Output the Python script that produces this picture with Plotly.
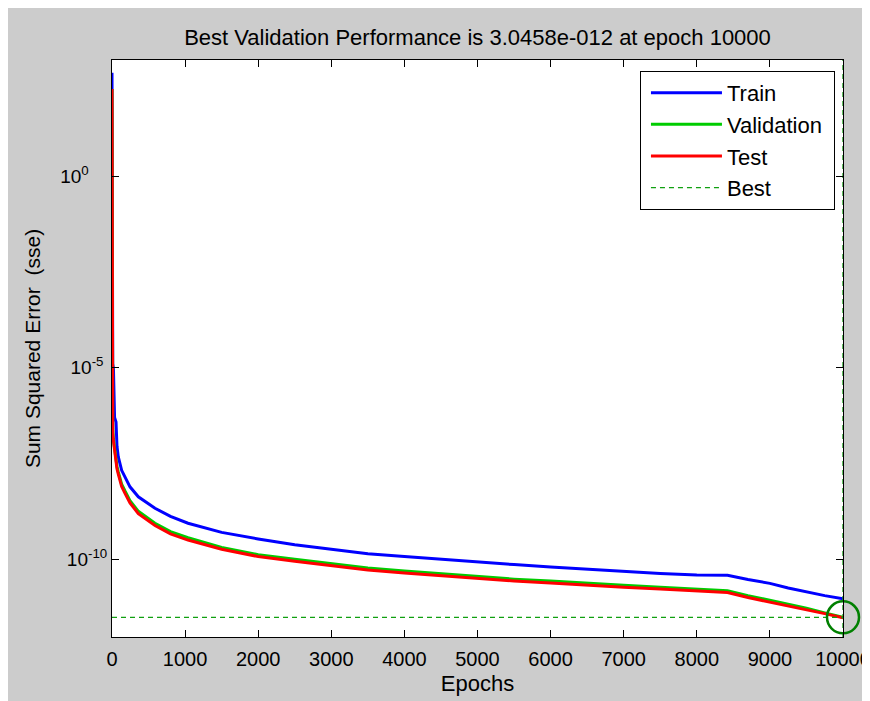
import plotly.graph_objects as go

# ---- data (values are log10 of the error) ----
epochs = [0, 2, 5, 10, 18, 20, 35, 55, 68, 86, 132, 178, 246, 360, 588, 800, 1040,
          1500, 2000, 2500, 3000, 3500, 4000, 4500, 5000, 5500, 6000, 6500,
          7000, 7500, 8000, 8420, 8700, 9000, 9250, 9500, 9750, 10000]

train_log10 = [2.70, -4.50, -4.70, -4.90, -5.00, -5.05, -6.30, -6.42, -7.05, -7.33,
               -7.68, -7.85, -8.11, -8.37, -8.67, -8.88, -9.06,
               -9.30, -9.47, -9.62, -9.74, -9.86, -9.93, -10.00, -10.08, -10.14,
               -10.20, -10.26, -10.32, -10.37, -10.41, -10.42, -10.53, -10.63,
               -10.75, -10.86, -10.95, -11.03]

val_log10 = [2.27, -5.80, -6.40, -6.60, -6.85, -6.88, -7.15, -7.45, -7.58, -7.72,
             -8.04, -8.22, -8.47, -8.75, -9.06, -9.28, -9.44,
             -9.69, -9.88, -10.00, -10.11, -10.23, -10.31, -10.38, -10.46, -10.52,
             -10.57, -10.63, -10.68, -10.73, -10.78, -10.82, -10.95, -11.07,
             -11.18, -11.28, -11.40, -11.516]

test_log10 = [2.27, -5.90, -6.50, -6.70, -6.89, -6.92, -7.20, -7.50, -7.64, -7.78,
              -8.10, -8.28, -8.53, -8.81, -9.12, -9.34, -9.50,
              -9.74, -9.93, -10.05, -10.16, -10.28, -10.36, -10.43, -10.51, -10.57,
              -10.62, -10.68, -10.73, -10.78, -10.83, -10.87, -11.00, -11.12,
              -11.22, -11.31, -11.42, -11.53]

best_epoch = 10000
best_value = 3.0458e-12

x_ticks = [0, 1000, 2000, 3000, 4000, 5000, 6000, 7000, 8000, 9000, 10000]
x_tick_text = ["0", "1000", "2000", "3000", "4000", "5000", "6000", "7000",
               "8000", "9000", "10000"]
y_ticks = [1e-10, 1e-5, 1e0]
# trailing spaces keep the "10" bases aligned like the reference
y_tick_text = ["10<sup>-10</sup>", "10<sup>-5\u00a0</sup>",
               "10<sup>0\u00a0\u2007\u2007</sup>"]
y_range_log = [-12.03, 3.03]

title_text = "Best Validation Performance is 3.0458e-012 at epoch 10000"

FONT = "Liberation Sans, Arial, sans-serif"

train = [10 ** v for v in train_log10]
val = [10 ** v for v in val_log10]
test = [10 ** v for v in test_log10]

fig = go.Figure()
fig.add_trace(go.Scatter(x=epochs, y=train, mode="lines", name="Train",
                         line=dict(color="#0000FF", width=3)))
fig.add_trace(go.Scatter(x=epochs, y=val, mode="lines", name="Validation\u00a0",
                         line=dict(color="#00CC00", width=3)))
fig.add_trace(go.Scatter(x=epochs, y=test, mode="lines", name="Test",
                         line=dict(color="#FF0000", width=3)))
ymin = 10 ** y_range_log[0]
ymax = 10 ** y_range_log[1]
fig.add_trace(go.Scatter(x=[0, best_epoch, None, best_epoch, best_epoch],
                         y=[best_value, best_value, None, ymin, ymax],
                         mode="lines", name="Best",
                         line=dict(color="#10A010", width=1.3, dash="5px,4px")))
fig.add_trace(go.Scatter(x=[best_epoch], y=[best_value], mode="markers",
                         showlegend=False, cliponaxis=False,
                         marker=dict(symbol="circle-open", size=32,
                                     line=dict(color="#008000", width=2.5),
                                     color="#008000")))

# the page body adds an 8px offset; sizes/margins are set so the plot box lands
# where the reference has it (x 112..843, y 60..637 on screen)
W, H = 862, 693
fig.update_layout(
    width=W, height=H,
    margin=dict(l=104, r=W - 835, t=52, b=H - 629, autoexpand=False),
    paper_bgcolor="#CCCCCC",
    plot_bgcolor="white",
    font=dict(family=FONT, size=20, color="black"),
    title=dict(text=title_text, x=0.5, xref="paper", xanchor="center",
               y=1 - 29 / H, yanchor="middle",
               font=dict(family=FONT, size=22, color="black")),
    legend=dict(x=0.989, xanchor="right", y=0.981, yanchor="top",
                bgcolor="white", bordercolor="black", borderwidth=1,
                font=dict(family=FONT, size=22, color="black"),
                itemwidth=71, indentation=5, tracegroupgap=0),
    showlegend=True,
)

fig.update_xaxes(range=[0, 10000], tickvals=x_ticks, ticktext=x_tick_text,
                 ticks="inside", ticklen=7, tickcolor="black", tickwidth=1,
                 showline=True, linecolor="black", linewidth=1, mirror="ticks",
                 showgrid=False, zeroline=False, ticklabelstandoff=4,
                 ticklabeloverflow="allow",
                 automargin=False,
                 title=dict(text="Epochs", standoff=6,
                            font=dict(family=FONT, size=22, color="black")))
fig.update_yaxes(type="log", range=y_range_log, tickvals=y_ticks, ticktext=y_tick_text,
                 ticks="inside", ticklen=7, tickcolor="black", tickwidth=1,
                 showline=True, linecolor="black", linewidth=1, mirror="ticks",
                 showgrid=False, zeroline=False, ticklabelstandoff=0,
                 automargin=False, tickfont=dict(family=FONT, size=19),
                 title=dict(text="Sum Squared Error \u00a0(sse)", standoff=13,
                            font=dict(family=FONT, size=21, color="black")))

fig.write_html("out.html")
